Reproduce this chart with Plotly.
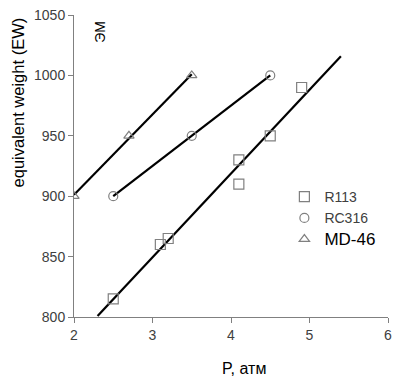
import numpy as np
import plotly.graph_objects as go

# data
r113_p = [2.5, 3.1, 3.2, 4.1, 4.1, 4.5, 4.9]
r113_ew = [815, 860, 865, 930, 910, 950, 990]
rc316_p = [2.5, 3.5, 4.5]
rc316_ew = [900, 950, 1000]
md46_p = [2.0, 2.7, 3.5]
md46_ew = [900, 950, 1000]
# trend-line x extents
r113_fit_x = [2.3, 5.4]
rc316_fit_x = [2.5, 4.5]
md46_fit_x = [2.0, 3.5]

x_ticks = [2, 3, 4, 5, 6]
y_ticks = [800, 850, 900, 950, 1000, 1050]

GRAY = "#808080"
fig = go.Figure()

def fit(xs, ys, xr):
    k, b = np.polyfit(xs, ys, 1)
    return list(xr), [k * v + b for v in xr]

for xs, ys, xr in [(r113_p, r113_ew, r113_fit_x), (rc316_p, rc316_ew, rc316_fit_x), (md46_p, md46_ew, md46_fit_x)]:
    fx, fy = fit(xs, ys, xr)
    fig.add_trace(go.Scatter(x=fx, y=fy, mode="lines", line=dict(color="black", width=2.2),
                             showlegend=False, hoverinfo="skip"))

fig.add_trace(go.Scatter(x=r113_p, y=r113_ew, mode="markers", name="R113",
                         marker=dict(symbol="square-open", size=10, color=GRAY, line=dict(width=1.2))))
fig.add_trace(go.Scatter(x=rc316_p, y=rc316_ew, mode="markers", name="RC316",
                         marker=dict(symbol="circle-open", size=9, color=GRAY, line=dict(width=1.2))))
fig.add_trace(go.Scatter(x=md46_p, y=md46_ew, mode="markers",
                         name="<span style='font-size:17px;color:black'>MD-46</span>",
                         marker=dict(symbol="triangle-up-open", size=9, color=GRAY, line=dict(width=1.2))))

fig.update_layout(
    width=400, height=380,
    margin=dict(l=66, r=20, t=7, b=71),
    plot_bgcolor="white", paper_bgcolor="white",
    font=dict(family="Liberation Sans, Arial, sans-serif", size=14, color="#404040"),
    legend=dict(x=0.67, y=0.45, xanchor="left", yanchor="top", bgcolor="rgba(0,0,0,0)",
                font=dict(size=14, color="#404040"), itemwidth=30, tracegroupgap=0),
    xaxis=dict(range=[2, 6], tickvals=x_ticks, showgrid=False, zeroline=False, automargin=False,
               showline=True, linecolor=GRAY, linewidth=1, ticks="outside", ticklen=5,
               tickcolor=GRAY, tickfont=dict(size=14, color="#404040"), ticklabeloverflow="allow"),
    yaxis=dict(range=[800, 1050], tickvals=y_ticks, showgrid=False, zeroline=False, automargin=False,
               showline=True, linecolor=GRAY, linewidth=1, ticks="outside", ticklen=5,
               tickcolor=GRAY, tickfont=dict(size=14, color="#404040"), ticklabeloverflow="allow"),
    annotations=[
        dict(text="ЭМ", x=2.33, y=1036, xref="x", yref="y", showarrow=False,
             textangle=-90, font=dict(size=14, color="black")),
        dict(text="equivalent weight (EW)", x=-0.18, y=0.712, xref="paper", yref="paper",
             showarrow=False, textangle=-90, xanchor="center", yanchor="middle",
             font=dict(size=16.5, color="black")),
        dict(text="P, атм", x=0.54, y=-0.169, xref="paper", yref="paper",
             showarrow=False, xanchor="center", yanchor="middle",
             font=dict(size=16, color="black")),
    ],
)

fig.write_html("out.html")
